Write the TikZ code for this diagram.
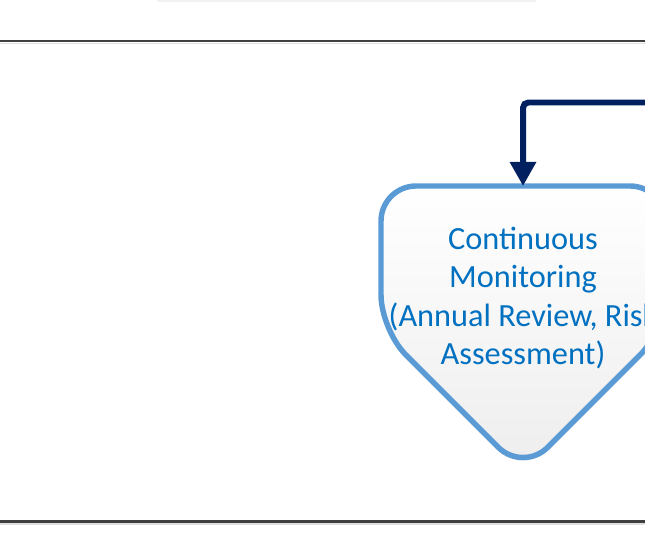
\documentclass[tikz,border=0pt]{standalone}
\usepackage{fontspec}
\setmainfont{Carlito}
\usetikzlibrary{arrows.meta}
\definecolor{navy}{HTML}{002060}
\definecolor{edgeblue}{HTML}{5B9BD5}
\definecolor{textblue}{HTML}{0070C0}
\definecolor{lanegray}{HTML}{3F3F3F}
\begin{document}
\begin{tikzpicture}[line width = 1,
  lane/.style = {lanegray, line width = 0.6pt},
  flow/.style = {navy, line width = 1.7pt, rounded corners = 1.5pt, -{Triangle[width = 0.25cm, length = 0.24cm]}},
  monbox/.style = {draw = edgeblue, line width = 1.55pt, rounded corners = 0.35cm, top color = white, bottom color = black!7}]
\useasboundingbox (0,0) rectangle (6.45,5.43);
% faint edge of the shape above
\draw[black!5, line width = 1pt] (1.57,5.425) -- (5.36,5.425);
\foreach \y in {5.02, 0.215} {
\draw[black!12, line width = 0.5pt] (0,\y-0.025) -- (6.45,\y-0.025);
\draw[lane] (0,\y) -- (6.45,\y);
}
% off-page shape
\fill[black!12, rounded corners = 0.35cm, yshift = -0.03cm] (5.23,3.57) -- (6.65,3.57) -- (6.65,2.13) -- (5.23,0.71) -- (3.81,2.13) -- (3.81,3.57) -- cycle;
\draw[monbox] (5.23,3.57) -- (6.65,3.57) -- (6.65,2.13) -- (5.23,0.71) -- (3.81,2.13) -- (3.81,3.57) -- cycle;
\coordinate (montop) at (5.23,3.57);
\node[text = textblue, align = center, inner sep = 0, font = \fontsize{9.2}{10.9}\selectfont] (monitor) at (5.23,2.45) {Continuous\\Monitoring\\(Annual Review, Risk\\Assessment)};
% incoming flow
\coordinate (feed) at (6.6,4.405);
\draw[flow] (feed) -| (montop);
\end{tikzpicture}
\end{document}
